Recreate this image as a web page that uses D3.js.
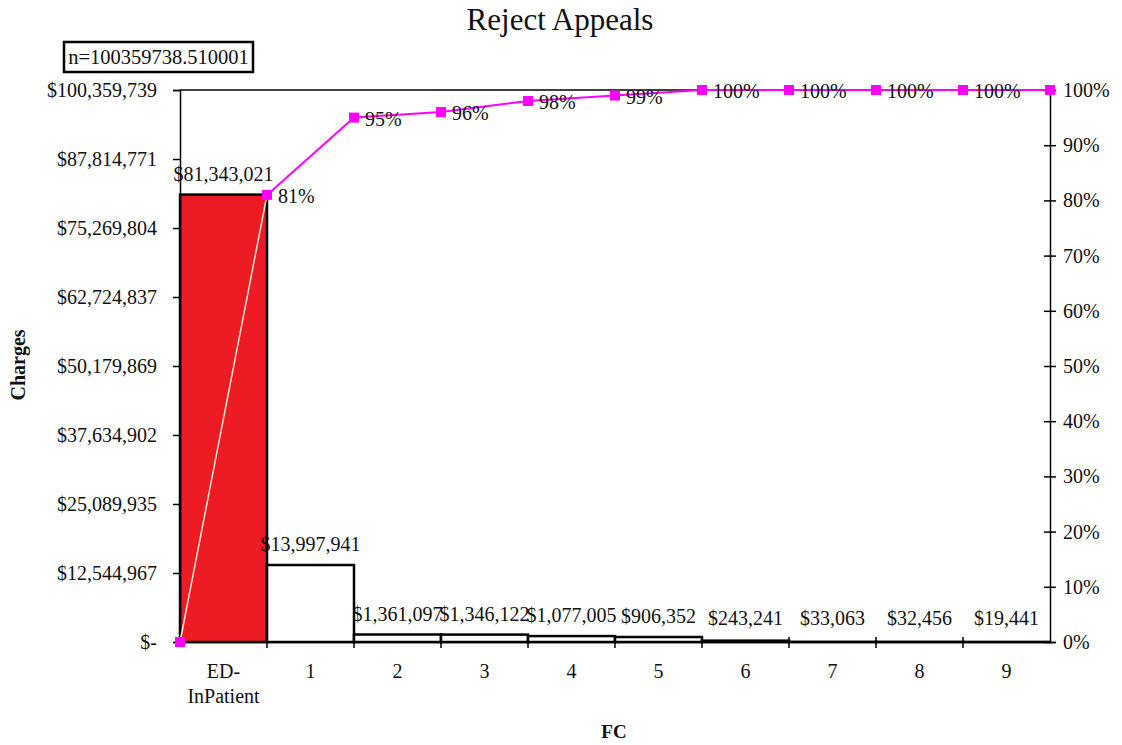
<!DOCTYPE html>
<html>
<head>
<meta charset="utf-8">
<script src="https://cdn.jsdelivr.net/npm/d3@7"></script>
<style>
  body { margin: 0; background: #fff; }
  svg text { font-family: "Liberation Serif", "Times New Roman", serif; fill: #111; }
</style>
</head>
<body>
<div id="chart"></div>
<script>
// chart data
const categories = ["ED-InPatient", "1", "2", "3", "4", "5", "6", "7", "8", "9"];
const charges = [81343021, 13997941, 1361097, 1346122, 1077005, 906352, 243241, 33063, 32456, 19441];
const cumPercent = [0, 81, 95, 96, 98, 99, 100, 100, 100, 100, 100];
const leftTicks = [0, 12544967, 25089935, 37634902, 50179869, 62724837, 75269804, 87814771, 100359739];
const leftTickLabels = ["$-", "$12,544,967", "$25,089,935", "$37,634,902", "$50,179,869",
  "$62,724,837", "$75,269,804", "$87,814,771", "$100,359,739"];
const rightTicks = [0, 10, 20, 30, 40, 50, 60, 70, 80, 90, 100];
const total = 100359738.510001;

const W = 1122, H = 745;
const margin = { top: 90, right: 72, bottom: 103, left: 180 };
const width = W - margin.left - margin.right;
const height = H - margin.top - margin.bottom;
const fs = "20px";

const svg = d3.select("#chart").append("svg")
  .attr("width", W)
  .attr("height", H);

// title
svg.append("text")
  .attr("x", 560).attr("y", 30)
  .attr("text-anchor", "middle")
  .style("font-size", "31px")
  .text("Reject Appeals");

// n box
const nBox = svg.append("g").attr("transform", "translate(64,42)");
nBox.append("rect")
  .attr("width", 189).attr("height", 30)
  .attr("fill", "#fff").attr("stroke", "#000").attr("stroke-width", 2.5);
nBox.append("text")
  .attr("x", 94.5).attr("y", 22)
  .attr("text-anchor", "middle")
  .style("font-size", "20.5px")
  .text("n=" + total);

const g = svg.append("g")
  .attr("transform", "translate(" + margin.left + "," + margin.top + ")");

const x = d3.scaleBand()
  .domain(categories)
  .range([0, width])
  .padding(0);

const y = d3.scaleLinear()
  .domain([0, leftTicks[leftTicks.length - 1]])
  .range([height, 0]);

const yPct = d3.scaleLinear()
  .domain([0, 100])
  .range([height, 0]);

// position along x for cumulative points: left edge, then right edge of each bar
const xEdge = i => i === 0 ? 0 : x(categories[i - 1]) + x.bandwidth();

// bars
g.selectAll(".bar")
  .data(charges)
  .enter().append("rect")
  .attr("class", "bar")
  .attr("x", (d, i) => x(categories[i]))
  .attr("y", d => y(d))
  .attr("width", x.bandwidth())
  .attr("height", d => height - y(d))
  .attr("fill", (d, i) => i === 0 ? "#ed1c24" : "#fff")
  .attr("stroke", "#000")
  .attr("stroke-width", 2.5);

// bar value labels
g.selectAll(".bar-label")
  .data(charges)
  .enter().append("text")
  .attr("class", "bar-label")
  .attr("x", (d, i) => x(categories[i]) + x.bandwidth() / 2)
  .attr("y", d => Math.min(y(d) - 14, height - 17))
  .attr("text-anchor", "middle")
  .style("font-size", fs)
  .text(d => "$" + d3.format(",")(d));

// left axis
const leftAxis = g.append("g")
  .call(d3.axisLeft(y).tickValues(leftTicks).tickFormat((d, i) => leftTickLabels[i]).tickSize(7).tickPadding(16));
leftAxis.select(".domain").attr("stroke", "#000").attr("stroke-width", 1.5);
leftAxis.selectAll(".tick line").attr("stroke", "#000").attr("stroke-width", 1.5);
leftAxis.selectAll(".tick text")
  .style("font-family", "Liberation Serif, serif")
  .style("font-size", fs).attr("fill", "#111");

// right axis
const rightAxis = g.append("g")
  .attr("transform", "translate(" + width + ",0)")
  .call(d3.axisRight(yPct).tickValues(rightTicks).tickFormat(d => d + "%").tickSize(6).tickPadding(7));
rightAxis.select(".domain").attr("stroke", "#000").attr("stroke-width", 1.5);
rightAxis.selectAll(".tick line").attr("x1", -6).attr("stroke", "#000").attr("stroke-width", 1.5);
rightAxis.selectAll(".tick text")
  .style("font-family", "Liberation Serif, serif")
  .style("font-size", fs).attr("fill", "#111");

// top border
g.append("line")
  .attr("x1", 0).attr("x2", width)
  .attr("y1", 0).attr("y2", 0)
  .attr("stroke", "#000").attr("stroke-width", 1.5);

// bottom axis
const bottomAxis = g.append("g")
  .attr("transform", "translate(0," + height + ")")
  .call(d3.axisBottom(x).tickSize(0).tickFormat(""));
bottomAxis.select(".domain").attr("stroke", "#000").attr("stroke-width", 1.5);
bottomAxis.selectAll(".tick").remove();

// bottom ticks at band edges
g.append("g")
  .selectAll("line")
  .data(categories.slice(1))
  .enter().append("line")
  .attr("x1", d => x(d)).attr("x2", d => x(d))
  .attr("y1", height - 5).attr("y2", height + 6)
  .attr("stroke", "#000").attr("stroke-width", 1.5);

// category labels
const catLabels = g.selectAll(".cat-label")
  .data(categories)
  .enter().append("text")
  .attr("class", "cat-label")
  .attr("x", d => x(d) + x.bandwidth() / 2)
  .attr("y", height + 36)
  .attr("text-anchor", "middle")
  .style("font-size", fs);
catLabels.each(function (d) {
  const parts = d === "ED-InPatient" ? ["ED-", "InPatient"] : [d];
  d3.select(this).selectAll("tspan")
    .data(parts)
    .enter().append("tspan")
    .attr("x", x(d) + x.bandwidth() / 2)
    .attr("dy", (p, i) => i === 0 ? 0 : 25)
    .text(p => p);
});

// cumulative line
const line = d3.line()
  .x((d, i) => xEdge(i))
  .y(d => yPct(d));

g.append("path")
  .datum(cumPercent.slice(1))
  .attr("d", d3.line().x((d, i) => xEdge(i + 1)).y(d => yPct(d)))
  .attr("fill", "none")
  .attr("stroke", "#f0f")
  .attr("stroke-width", 2);

// first segment drawn pale over the red bar
g.append("path")
  .datum(cumPercent.slice(0, 2))
  .attr("d", line)
  .attr("fill", "none")
  .attr("stroke", "#fbe9dc")
  .attr("stroke-width", 1.5);

g.selectAll(".marker")
  .data(cumPercent)
  .enter().append("rect")
  .attr("class", "marker")
  .attr("x", (d, i) => xEdge(i) - 5)
  .attr("y", d => yPct(d) - 5)
  .attr("width", 10).attr("height", 10)
  .attr("fill", "#f0f");

g.selectAll(".pct-label")
  .data(cumPercent.slice(1, cumPercent.length - 1))
  .enter().append("text")
  .attr("class", "pct-label")
  .attr("x", (d, i) => xEdge(i + 1) + 11)
  .attr("y", d => yPct(d) + 8)
  .style("font-size", fs)
  .text(d => d + "%");

// axis titles
svg.append("text")
  .attr("x", 614).attr("y", 738)
  .attr("text-anchor", "middle")
  .style("font-size", "19px").style("font-weight", "bold")
  .text("FC");

svg.append("text")
  .attr("transform", "translate(25," + 365 + ") rotate(-90)")
  .attr("text-anchor", "middle")
  .style("font-size", "20px").style("font-weight", "bold")
  .text("Charges");
</script>
</body>
</html>
